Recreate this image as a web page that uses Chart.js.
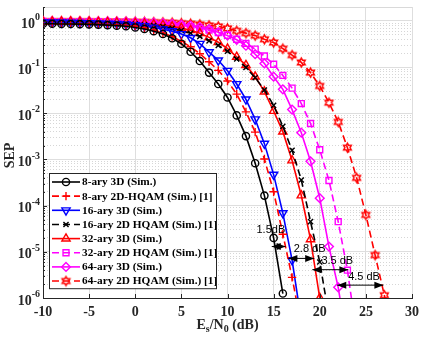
<!DOCTYPE html>
<html>
<head>
<meta charset="utf-8">
<script src="https://cdn.jsdelivr.net/npm/chart.js@4.4.1/dist/chart.umd.min.js"></script>
<style>
  html, body { margin: 0; padding: 0; background: #fff; }
  #wrap { width: 425px; height: 340px; }
</style>
</head>
<body>
<div id="wrap"><canvas id="sepChart" width="425" height="340"></canvas></div>
<script>
// Es/N0 values (dB); each series below starts at -10 dB
const snrDb = [-10,-9,-8,-7,-6,-5,-4,-3,-2,-1,0,1,2,3,4,5,6,7,8,9,10,11,12,13,14,15,16,17,18,19,20,21,22,23,24,25,26,27,28];

// SEP
const sep8ary3D = [0.87,0.865,0.86,0.855,0.85,0.84,0.83,0.81,0.79,0.765,0.72,0.67,0.60,0.52,0.42,0.32,0.215,0.135,0.076,0.043,0.022,0.009,0.0032,8.3e-4,1.65e-4,2.0e-5,1.25e-6];
const sep8aryHqam = [0.875,0.873,0.87,0.87,0.865,0.86,0.85,0.84,0.82,0.80,0.77,0.71,0.64,0.55,0.46,0.36,0.275,0.195,0.13,0.085,0.050,0.026,0.0107,0.0039,0.00102,2.0e-4,2.4e-5,2.8e-6,2.5e-7];
const sep16ary3D = [0.935,0.93,0.925,0.92,0.91,0.90,0.89,0.875,0.86,0.84,0.81,0.77,0.72,0.66,0.60,0.52,0.43,0.32,0.21,0.14,0.083,0.043,0.020,0.0074,0.0022,4.7e-4,6.9e-5,6.6e-6,3.2e-7];
const sep16aryHqam = [0.935,0.933,0.93,0.925,0.92,0.91,0.90,0.89,0.88,0.87,0.85,0.82,0.79,0.75,0.69,0.62,0.54,0.46,0.37,0.295,0.22,0.15,0.098,0.059,0.032,0.0148,0.0052,0.00158,3.6e-4,4.5e-5,6.0e-6,4.0e-7];
const sep32ary3D = [0.968,0.966,0.963,0.96,0.955,0.95,0.94,0.93,0.92,0.905,0.89,0.87,0.84,0.81,0.76,0.70,0.63,0.54,0.44,0.345,0.25,0.166,0.11,0.062,0.0295,0.0112,0.0040,9.5e-4,1.66e-4,1.86e-5,1.0e-6];
const sep32aryHqam = [0.969,0.968,0.967,0.966,0.964,0.961,0.957,0.952,0.945,0.935,0.92,0.90,0.875,0.845,0.82,0.785,0.74,0.69,0.63,0.56,0.49,0.40,0.325,0.245,0.174,0.115,0.066,0.035,0.0162,0.0060,0.00162,3.5e-4,4.5e-5,4.0e-6,1.6e-7];
const sep64ary3D = [0.984,0.983,0.982,0.981,0.979,0.977,0.974,0.97,0.965,0.958,0.948,0.935,0.918,0.895,0.865,0.83,0.785,0.73,0.66,0.57,0.48,0.39,0.29,0.19,0.12,0.062,0.033,0.012,0.0038,9.1e-4,1.45e-4,1.3e-5,1.7e-6,1.0e-7];
const sep64aryHqam = [0.984,0.984,0.983,0.982,0.981,0.98,0.978,0.975,0.97,0.965,0.958,0.95,0.94,0.93,0.915,0.895,0.87,0.84,0.80,0.76,0.69,0.61,0.543,0.48,0.40,0.34,0.25,0.182,0.126,0.076,0.039,0.017,0.0065,0.0018,4.0e-4,6.3e-5,8.5e-6,1.15e-6,1.0e-7];

const seriesNames = [
  '8-ary 3D (Sim.)', '8-ary 2D-HQAM (Sim.) [1]',
  '16-ary 3D (Sim.)', '16-ary 2D HQAM (Sim.) [1]',
  '32-ary 3D (Sim.)', '32-ary 2D HQAM (Sim.) [1]',
  '64-ary 3D (Sim.)', '64-ary 2D HQAM (Sim.) [1]'
];
const seriesValues = [sep8ary3D, sep8aryHqam, sep16ary3D, sep16aryHqam, sep32ary3D, sep32aryHqam, sep64ary3D, sep64aryHqam];

// dB gap arrows: label, from dB, to dB, at SEP, text position
const gapLabels = ['1.5dB', '2.8 dB', '3.5 dB', '4.5 dB'];
const gapFrom = [14.8, 16.6, 19.2, 21.9];
const gapTo = [16.3, 19.4, 23.1, 26.9];
const gapSep = [1.3e-5, 7.2e-6, 4.1e-6, 1.9e-6];
const gapTextDb = [14.7, 18.9, 21.9, 24.8];
const gapTextSep = [3.0e-5, 1.15e-5, 6.4e-6, 2.9e-6];

// hexagram marker (no built-in one in Chart.js)
function hexagram(color, R) {
  const c = document.createElement('canvas');
  const s = Math.ceil(2 * R + 4);
  c.width = c.height = s;
  const g = c.getContext('2d');
  g.beginPath();
  for (let k = 0; k < 12; k++) {
    const a = -Math.PI / 2 + k * Math.PI / 6;
    const rr = k % 2 === 0 ? R : R / Math.sqrt(3);
    g.lineTo(s / 2 + rr * Math.cos(a), s / 2 + rr * Math.sin(a));
  }
  g.closePath();
  g.strokeStyle = color;
  g.lineWidth = 1.5;
  g.stroke();
  return c;
}

const RED = '#ff0000', BLUE = '#0000ff', MAG = '#ff00ff', BLK = '#000000';
const DASH = [7, 4];
const styles = [
  { color: BLK, dash: [], point: 'circle', r: 3.6, rot: 0 },
  { color: RED, dash: DASH, point: 'cross', r: 4.2, rot: 0 },
  { color: BLUE, dash: [], point: 'triangle', r: 4.8, rot: 180 },
  { color: BLK, dash: DASH, point: 'crossRot', r: 3.6, rot: 0 },
  { color: RED, dash: [], point: 'triangle', r: 4.8, rot: 0 },
  { color: MAG, dash: DASH, point: 'rect', r: 4.2, rot: 0 },
  { color: MAG, dash: [], point: 'rectRot', r: 4.4, rot: 0 },
  { color: RED, dash: DASH, point: hexagram(RED, 4.4), r: 4.4, rot: 0 }
];

const datasets = seriesValues.map((vals, i) => ({
  label: seriesNames[i],
  data: vals.map((v, k) => ({ x: snrDb[k], y: v })),
  borderColor: styles[i].color,
  borderWidth: 1.6,
  borderDash: styles[i].dash,
  pointStyle: styles[i].point,
  pointRadius: styles[i].r,
  pointRotation: styles[i].rot,
  pointBorderWidth: 1.4,
  pointBorderColor: styles[i].color,
  pointBackgroundColor: 'rgba(0,0,0,0)',
  fill: false,
  tension: 0
}));

const isDecade = v => Math.abs(Math.log10(v) - Math.round(Math.log10(v))) < 1e-9;
const SERIF = '"Liberation Serif", "Times New Roman", serif';
const AXIS_COL = '#262626';

// y ticks: 1..9 x 10^k, plus the top limit
const yTickValues = [];
for (let e = -6; e <= 0; e++) for (let m = 1; m <= 9; m++) yTickValues.push(m * Math.pow(10, e));
yTickValues.push(2);

const extras = {
  id: 'extras',
  afterDatasetsDraw(chart) {
    const { ctx, chartArea: a, scales: { x, y } } = chart;
    ctx.save();
    // dB gap arrows
    ctx.strokeStyle = '#000';
    ctx.fillStyle = '#000';
    ctx.lineWidth = 1;
    gapLabels.forEach((lab, i) => {
      const x1 = x.getPixelForValue(gapFrom[i]);
      const x2 = x.getPixelForValue(gapTo[i]);
      const yy = y.getPixelForValue(gapSep[i]);
      ctx.beginPath();
      ctx.moveTo(x1, yy); ctx.lineTo(x2, yy);
      ctx.stroke();
      [[x1, 1], [x2, -1]].forEach(([px, d]) => {
        ctx.beginPath();
        ctx.moveTo(px, yy);
        ctx.lineTo(px + d * 9, yy - 3.5);
        ctx.lineTo(px + d * 9, yy + 3.5);
        ctx.closePath();
        ctx.fill();
      });
      ctx.font = '11px "Liberation Sans", Arial, sans-serif';
      ctx.textAlign = 'center';
      ctx.textBaseline = 'middle';
      ctx.fillText(lab, x.getPixelForValue(gapTextDb[i]), y.getPixelForValue(gapTextSep[i]));
    });

    // legend box
    const lx = a.left + 6, ly = 173, lw = 167, rowH = 14.15;
    const lh = rowH * datasets.length + 2;
    ctx.fillStyle = '#fff';
    ctx.fillRect(lx, ly, lw, lh);
    chart.data.datasets.forEach((ds, i) => {
      const cy = ly + 9 + i * rowH;
      ctx.strokeStyle = ds.borderColor;
      ctx.lineWidth = 1.6;
      ctx.setLineDash(ds.borderDash || []);
      ctx.beginPath();
      ctx.moveTo(lx + 3, cy); ctx.lineTo(lx + 31, cy);
      ctx.stroke();
      ctx.setLineDash([]);
      ctx.lineWidth = ds.pointBorderWidth;
      ctx.fillStyle = 'rgba(0,0,0,0)';
      Chart.helpers.drawPoint(ctx, {
        pointStyle: ds.pointStyle, rotation: ds.pointRotation,
        radius: ds.pointRadius, borderWidth: ds.pointBorderWidth
      }, lx + 17, cy);
      ctx.fillStyle = '#000';
      ctx.font = 'bold 11.3px ' + SERIF;
      ctx.textAlign = 'left';
      ctx.textBaseline = 'middle';
      ctx.fillText(ds.label, lx + 33, cy + 0.5);
    });
    ctx.strokeStyle = AXIS_COL;
    ctx.lineWidth = 1;
    ctx.strokeRect(lx + 0.5, ly + 0.5, lw, lh);
    ctx.restore();
  },
  afterDraw(chart) {
    const { ctx, chartArea: a, scales: { x, y } } = chart;
    ctx.save();
    // top frame in grid grey
    ctx.strokeStyle = '#d9d9d9';
    ctx.lineWidth = 1;
    ctx.beginPath();
    ctx.moveTo(a.left, a.top + 0.5); ctx.lineTo(a.right, a.top + 0.5);
    ctx.stroke();
    // inward ticks
    ctx.strokeStyle = AXIS_COL;
    ctx.beginPath();
    x.ticks.forEach(t => {
      const px = Math.round(x.getPixelForValue(t.value)) + 0.5;
      ctx.moveTo(px, a.bottom); ctx.lineTo(px, a.bottom - 4);
    });
    y.ticks.forEach(t => {
      const py = Math.round(y.getPixelForValue(t.value)) + 0.5;
      const len = isDecade(t.value) ? 4 : 2;
      ctx.moveTo(a.left, py); ctx.lineTo(a.left + len, py);
    });
    ctx.stroke();

    // y tick labels 10^k
    ctx.fillStyle = AXIS_COL;
    ctx.textBaseline = 'middle';
    y.ticks.filter(t => isDecade(t.value)).forEach(t => {
      const py = y.getPixelForValue(t.value);
      const ex = String(Math.round(Math.log10(t.value)));
      ctx.font = 'bold 14px ' + SERIF;
      const w10 = ctx.measureText('10').width;
      ctx.font = 'bold 10px ' + SERIF;
      const wex = ctx.measureText(ex).width;
      const x0 = a.left - 3 - w10 - wex;
      ctx.font = 'bold 14px ' + SERIF;
      ctx.textAlign = 'left';
      ctx.fillText('10', x0, py + 3);
      ctx.font = 'bold 10px ' + SERIF;
      ctx.fillText(ex, x0 + w10, py - 3.5);
    });

    // y title
    ctx.save();
    ctx.translate(10, (a.top + a.bottom) / 2 + 3);
    ctx.rotate(-Math.PI / 2);
    ctx.font = 'bold 14px ' + SERIF;
    ctx.textAlign = 'center';
    ctx.textBaseline = 'middle';
    ctx.fillText('SEP', 0, 0);
    ctx.restore();

    // x title  E_s/N_0 (dB)
    const parts = [['E', 14, 0], ['s', 10, 3], ['/N', 14, 0], ['0', 10, 3], [' (dB)', 14, 0]];
    let tw = 0;
    parts.forEach(p => { ctx.font = 'bold ' + p[1] + 'px ' + SERIF; tw += ctx.measureText(p[0]).width; });
    let cx = (a.left + a.right) / 2 - tw / 2;
    const base = a.bottom + 31;
    ctx.textAlign = 'left';
    ctx.textBaseline = 'alphabetic';
    parts.forEach(p => {
      ctx.font = 'bold ' + p[1] + 'px ' + SERIF;
      ctx.fillText(p[0], cx, base + p[2]);
      cx += ctx.measureText(p[0]).width;
    });
    ctx.restore();
  }
};

new Chart(document.getElementById('sepChart'), {
  type: 'line',
  data: { datasets },
  options: {
    responsive: false,
    devicePixelRatio: 1,
    animation: false,
    layout: { padding: { top: 7, right: 13, left: 0, bottom: 0 } },
    plugins: { legend: { display: false }, tooltip: { enabled: false } },
    scales: {
      x: {
        type: 'linear',
        min: -10, max: 30,
        afterFit: s => { s.height = 42; },
        ticks: { stepSize: 5, color: AXIS_COL, padding: 6, font: { family: SERIF, weight: 'bold', size: 14 } },
        grid: { color: '#dedede', lineWidth: 1, drawTicks: false },
        border: { color: AXIS_COL, width: 1 }
      },
      y: {
        type: 'logarithmic',
        min: 1e-6, max: 2,
        afterBuildTicks: s => { s.ticks = yTickValues.map(v => ({ value: v, major: isDecade(v) })); },
        afterFit: s => { s.width = 43; },
        ticks: { autoSkip: false, callback: () => '', font: { size: 1 } },
        grid: {
          drawTicks: false,
          color: c => (c.tick && isDecade(c.tick.value)) ? '#dedede' : '#d6d6d6'
        },
        border: {
          color: AXIS_COL, width: 1,
          dash: c => (c.tick && isDecade(c.tick.value)) ? [] : [1, 2]
        }
      }
    }
  },
  plugins: [extras]
});
</script>
</body>
</html>
